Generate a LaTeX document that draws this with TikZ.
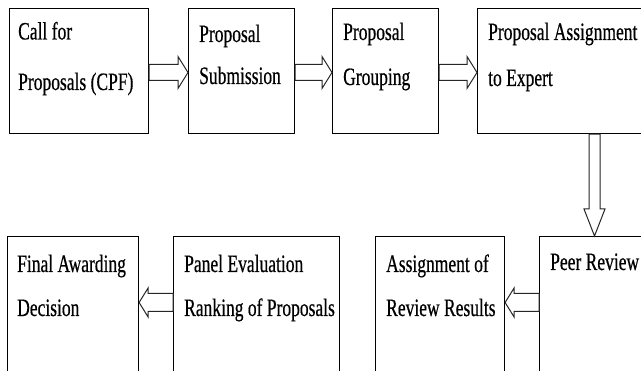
\documentclass[tikz,border=0pt]{standalone}
\usepackage{fontspec}
\setmainfont{Liberation Serif}[FakeStretch=0.7,FakeBold=0.5]
\usetikzlibrary{calc}

% Hollow block arrow from #1 (tail) to #2 (tip); #3 names its head base,
% #4 half shaft width, #5 half head width, #6 head length.
\newcommand\blockarrow[6]{%
  \coordinate (#3) at ($(#2)!#6!(#1)$);
  \draw[barrow] ($(#1)!#4!90:(#2)$) -- ($(#3)!#4!90:(#2)$)
    -- ($(#3)!#5!90:(#2)$) -- (#2) -- ($(#3)!#5!-90:(#2)$)
    -- ($(#3)!#4!-90:(#2)$) -- ($(#1)!#4!-90:(#2)$) -- cycle;}

\begin{document}
\begin{tikzpicture}[x=1pt,y=-1pt,
  box/.style={draw=black, line width=1.1pt, inner sep=0pt, anchor=north west},
  lbl/.style={anchor=base west, inner sep=0pt, font=\fontsize{25}{30}\selectfont},
  barrow/.style={draw=black!85, line width=1pt, fill=white}]
\clip (0,0) rectangle (641,371);

% process boxes, top row left to right
\node[box, minimum width=139pt, minimum height=125pt] (b1) at (9,8) {};
\node[box, minimum width=106pt, minimum height=125pt] (b2) at (188,8) {};
\node[box, minimum width=106pt, minimum height=125pt] (b3) at (332,8) {};
\node[box, minimum width=190pt, minimum height=125pt] (b4) at (477,8) {};
% bottom row, right to left
\node[box, minimum width=130pt, minimum height=160pt] (b5) at (539,236) {};
\node[box, minimum width=129pt, minimum height=160pt] (b6) at (375,236) {};
\node[box, minimum width=166pt, minimum height=160pt] (b7) at (173,236) {};
\node[box, minimum width=131pt, minimum height=160pt] (b8) at (7,236) {};

% box labels
\node[lbl] (t1a) at (18,39.5) {Call for};
\node[lbl] (t1b) at (18,90) {Proposals (CPF)};
\node[lbl] (t2a) at (199,42) {Proposal};
\node[lbl] (t2b) at (199,84) {Submission};
\node[lbl] (t3a) at (343,40) {Proposal};
\node[lbl] (t3b) at (343,85) {Grouping};
\node[lbl] (t4a) at (488,40) {Proposal Assignment};
\node[lbl] (t4b) at (488,86) {to Expert};
\node[lbl] (t5a) at (550,270) {Peer Review};
\node[lbl] (t6a) at (386,272) {Assignment of};
\node[lbl] (t6b) at (386,316) {Review Results};
\node[lbl] (t7a) at (184,272) {Panel Evaluation};
\node[lbl] (t7b) at (184,316) {Ranking of Proposals};
\node[lbl] (t8a) at (17,272) {Final Awarding};
\node[lbl] (t8b) at (17,316) {Decision};

% arrow ends on the box borders
\coordinate (a1s) at (b1.east |- 0,72.5);
\coordinate (a1e) at (b2.west |- 0,72.5);
\coordinate (a2s) at (b2.east |- 0,72.5);
\coordinate (a2e) at (b3.west |- 0,72.5);
\coordinate (a3s) at (b3.east |- 0,72.5);
\coordinate (a3e) at (b4.west |- 0,72.5);
\coordinate (a4s) at (594.5,0 |- b4.south);
\coordinate (a4e) at (594.5,0 |- b5.north);
\coordinate (a5s) at (b5.west |- 0,302.5);
\coordinate (a5e) at (b6.east |- 0,302.5);
\coordinate (a6s) at (b7.west |- 0,302.5);
\coordinate (a6e) at (b8.east |- 0,302.5);

\blockarrow{a1s}{a1e}{a1h}{8pt}{16pt}{10pt}
\blockarrow{a2s}{a2e}{a2h}{8pt}{16pt}{10pt}
\blockarrow{a3s}{a3e}{a3h}{8pt}{16pt}{10pt}
\blockarrow{a4s}{a4e}{a4h}{5.5pt}{10.5pt}{27pt}
\blockarrow{a5s}{a5e}{a5h}{9pt}{14.5pt}{9pt}
\blockarrow{a6s}{a6e}{a6h}{9pt}{14.5pt}{9pt}
\end{tikzpicture}
\end{document}
